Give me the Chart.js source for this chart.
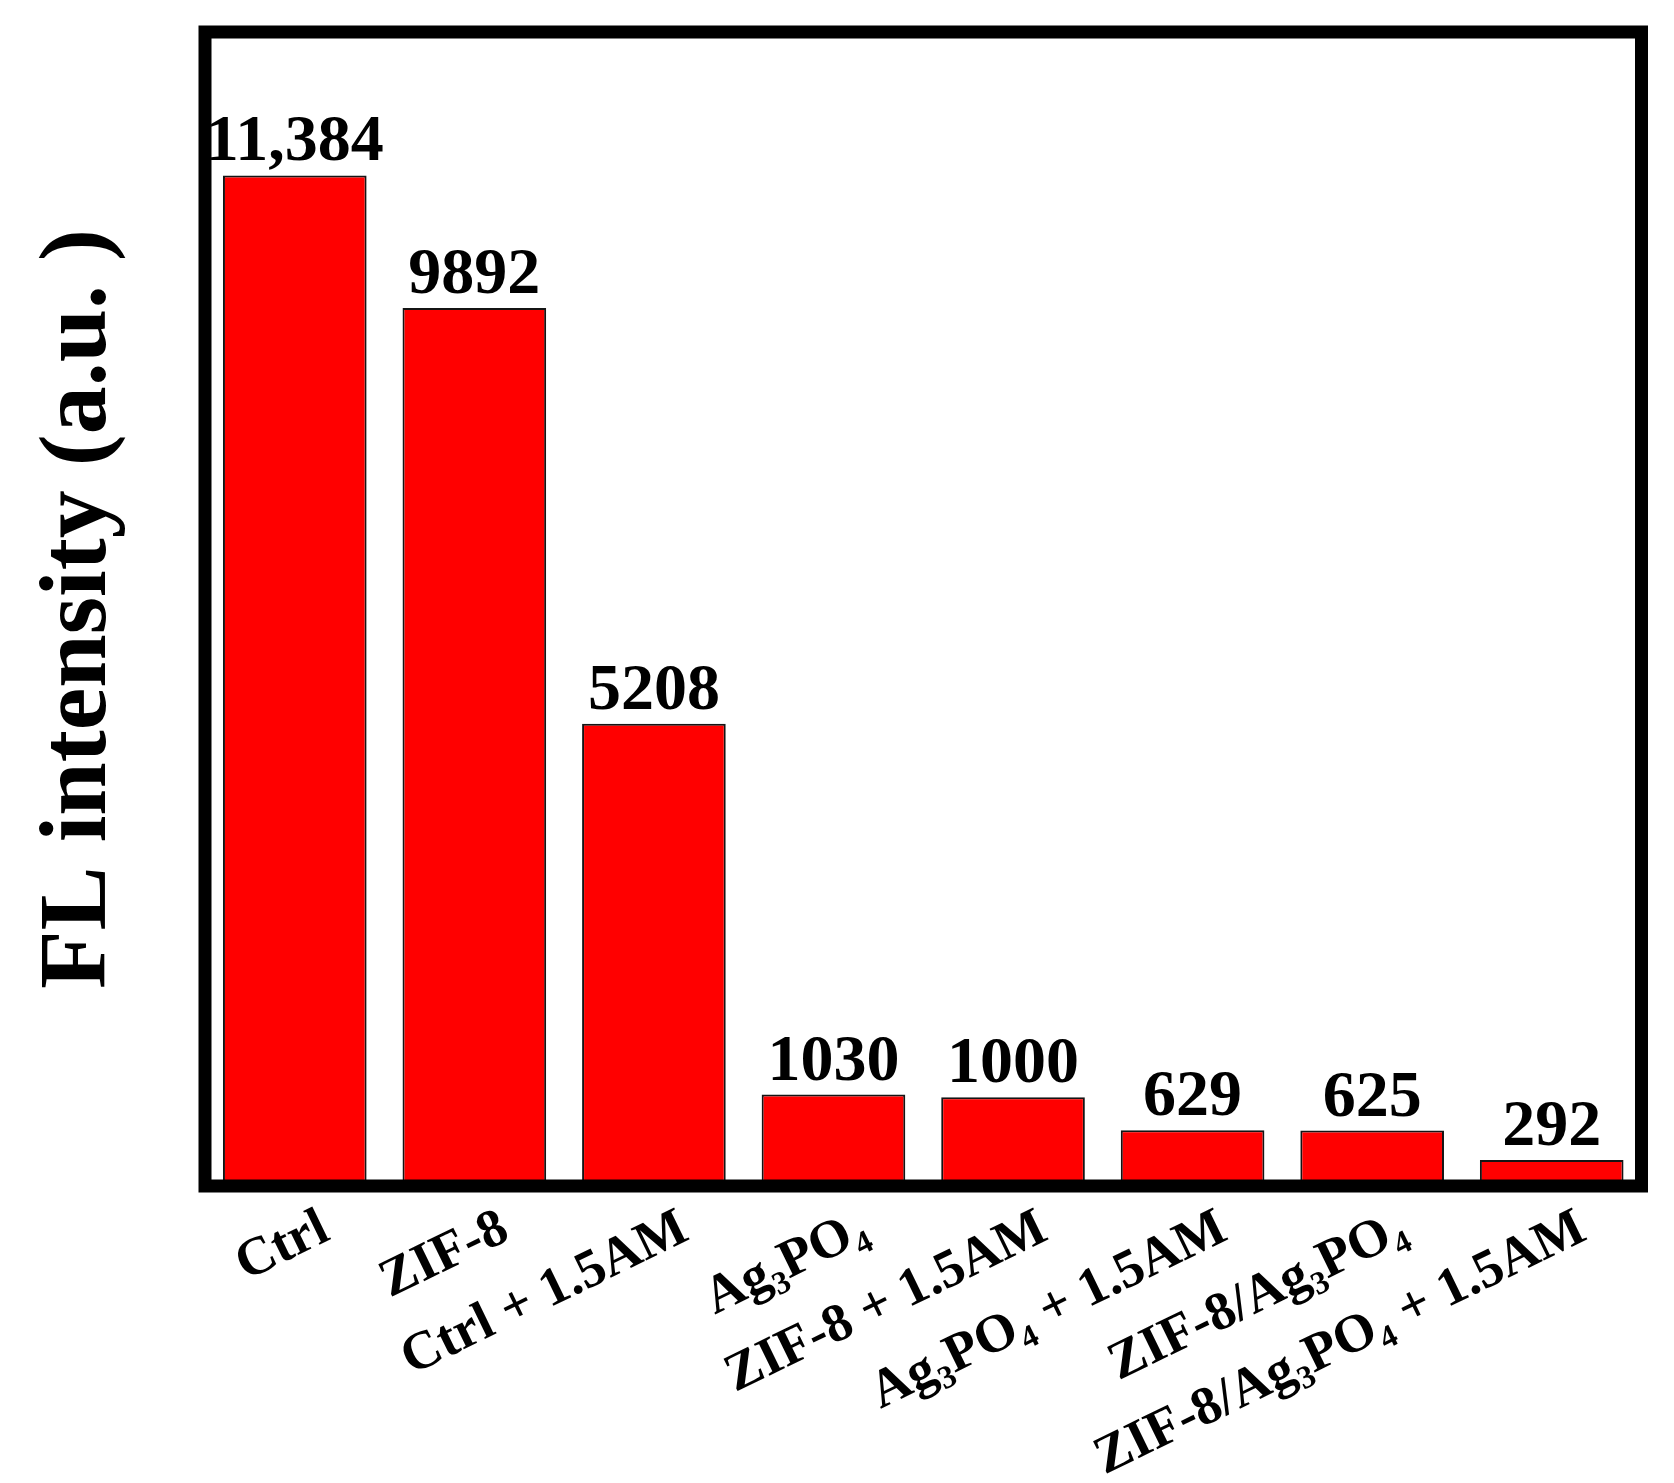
<!DOCTYPE html>
<html>
<head>
<meta charset="utf-8">
<script src="https://cdn.jsdelivr.net/npm/chart.js@4.4.1/dist/chart.umd.min.js"></script>
<style>
  html, body { margin: 0; padding: 0; background: #ffffff; }
  #wrap { width: 1674px; height: 1483px; }
</style>
</head>
<body>
<div id="wrap"><canvas id="c" width="1674" height="1483"></canvas></div>
<script>
const categories = [
  'Ctrl',
  'ZIF-8',
  'Ctrl + 1.5AM',
  'Ag\u2083PO\u2084',
  'ZIF-8 + 1.5AM',
  'Ag\u2083PO\u2084 + 1.5AM',
  'ZIF-8/Ag\u2083PO\u2084',
  'ZIF-8/Ag\u2083PO\u2084 + 1.5AM'
];
const intensity = [11384, 9892, 5208, 1030, 1000, 629, 625, 292];
const valueLabels = ['11,384', '9892', '5208', '1030', '1000', '629', '625', '292'];
const yTitle = 'FL intensity (a.u. )';
const yMin = 0;
const yMax = 13000;

const SERIF = "'Liberation Serif', 'Times New Roman', 'DejaVu Serif', serif";

const whiteBg = {
  id: 'whiteBg',
  beforeDraw(chart) {
    const ctx = chart.ctx;
    ctx.save();
    ctx.fillStyle = '#ffffff';
    ctx.fillRect(0, 0, chart.width, chart.height);
    ctx.restore();
  }
};

const frameAndLabels = {
  id: 'frameAndLabels',
  afterDatasetsDraw(chart) {
    const ctx = chart.ctx;
    const a = chart.chartArea;
    ctx.save();
    ctx.strokeStyle = '#000000';
    ctx.lineWidth = 13;
    ctx.lineJoin = 'miter';
    ctx.strokeRect(a.left, a.top, a.right - a.left, a.bottom - a.top);

    const meta = chart.getDatasetMeta(0);
    ctx.fillStyle = '#000000';
    ctx.font = 'bold 66px ' + SERIF;
    ctx.textAlign = 'center';
    ctx.textBaseline = 'alphabetic';
    meta.data.forEach((bar, i) => {
      ctx.fillText(valueLabels[i], bar.x, bar.y - 15);
    });
    ctx.restore();
  }
};

new Chart(document.getElementById('c'), {
  type: 'bar',
  data: {
    labels: categories,
    datasets: [{
      data: intensity,
      backgroundColor: '#ff0000',
      borderColor: '#141414',
      borderWidth: 2,
      borderSkipped: 'start',
      categoryPercentage: 1.0,
      barPercentage: 0.8
    }]
  },
  options: {
    responsive: false,
    animation: false,
    devicePixelRatio: 1,
    layout: { padding: { left: 0, right: 32.5, top: 32, bottom: 0 } },
    plugins: {
      legend: { display: false },
      tooltip: { enabled: false },
      title: { display: false }
    },
    scales: {
      x: {
        grid: { display: false, drawTicks: false },
        border: { display: false },
        ticks: {
          autoSkip: false,
          minRotation: 26,
          maxRotation: 26,
          padding: 11,
          labelOffset: 31,
          color: '#000000',
          font: { family: SERIF, size: 54, weight: 'bold', lineHeight: 1.2 }
        },
        afterFit(scale) {
          scale.height = 297;
          scale.paddingLeft = 0;
          scale.paddingRight = 0;
        }
      },
      y: {
        min: yMin,
        max: yMax,
        grid: { display: false, drawTicks: false },
        border: { display: false },
        ticks: { display: false },
        title: {
          display: true,
          text: yTitle,
          color: '#000000',
          padding: { top: 23, bottom: 0 },
          font: { family: SERIF, size: 96, weight: 'bold', lineHeight: 1.2 }
        },
        afterFit(scale) {
          scale.width = 205;
        }
      }
    }
  },
  plugins: [whiteBg, frameAndLabels]
});
</script>
</body>
</html>
